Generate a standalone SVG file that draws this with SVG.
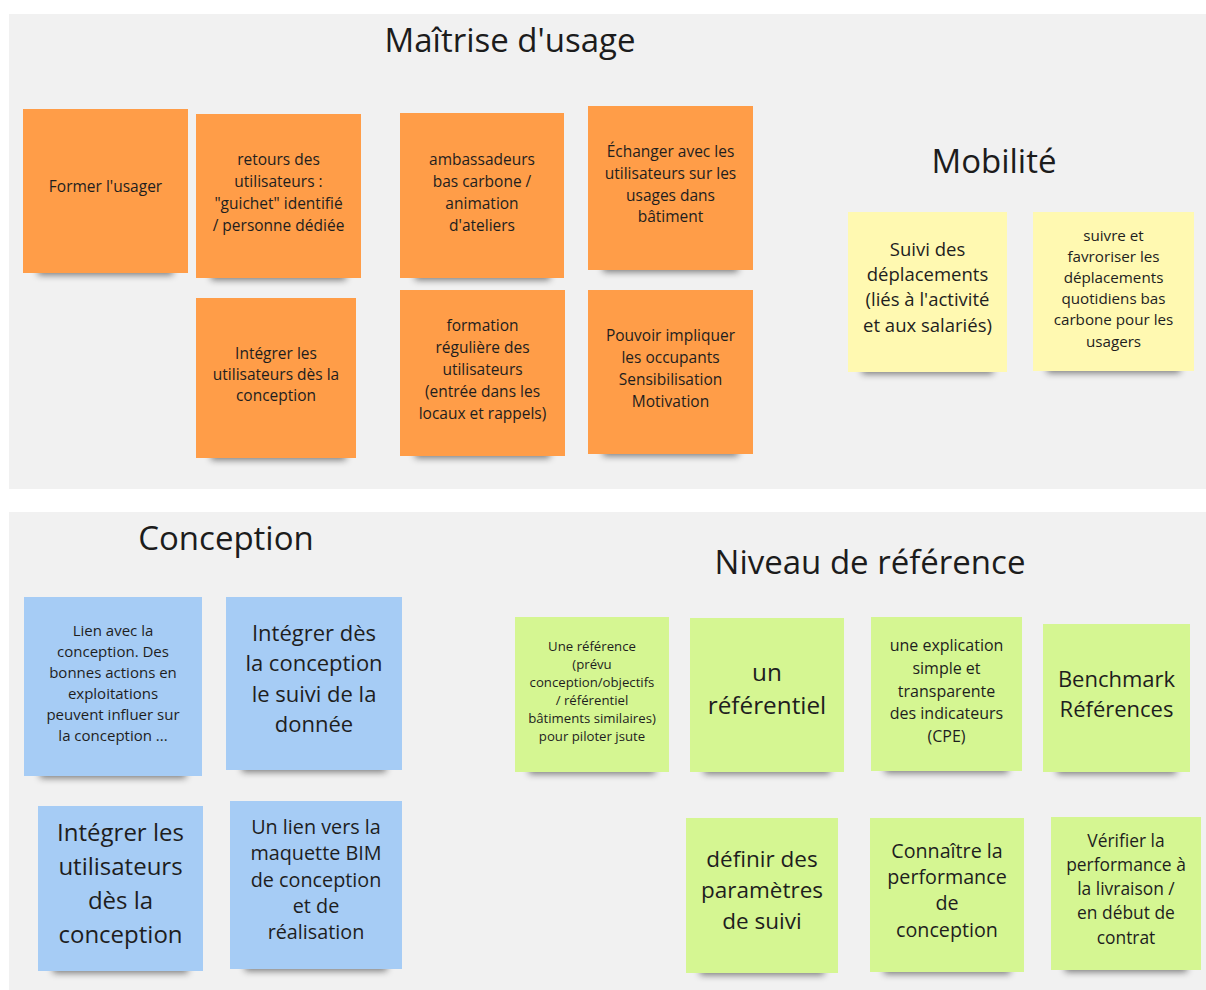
<svg xmlns="http://www.w3.org/2000/svg" width="1206" height="990" viewBox="0 0 1206 990">
<defs>
<filter id="sh" x="-20%" y="-200%" width="140%" height="500%"><feGaussianBlur stdDeviation="3.5"/></filter>
<style>
.panel{fill:#f1f1f1}
.title{font-family:"Open Sans","Liberation Sans",sans-serif;fill:#1c1c1c;text-anchor:middle}
.t{font-family:"Open Sans","Liberation Sans",sans-serif;fill:#1e1e1e;text-anchor:middle}
.shd{fill:#000;opacity:0.5;filter:url(#sh)}
.or{fill:#ff9d48}
.ye{fill:#fff9b1}
.bl{fill:#a6ccf5}
.gr{fill:#d5f692}
</style>
</defs>
<rect width="1206" height="990" fill="#ffffff"/>
<rect class="panel" x="9" y="14" width="1197" height="475"/>
<rect class="panel" x="9" y="512" width="1197" height="478"/>

<g id="titles">
<text class="title" x="510" y="52" font-size="33">Maîtrise d'usage</text>
<text class="title" x="994" y="173" font-size="33">Mobilité</text>
<text class="title" x="226" y="550" font-size="33">Conception</text>
<text class="title" x="870" y="574" font-size="33">Niveau de référence</text>
</g>

<g id="connectors"></g>

<!-- Maîtrise d'usage -->
<g id="n1"><rect class="shd" x="38" y="263" width="135" height="12"/><rect class="or" x="23" y="109" width="165" height="164"/>
<text class="t" font-size="15.5" x="105.5" y="191.5">Former l'usager</text></g>

<g id="n2"><rect class="shd" x="211" y="268" width="135" height="12"/><rect class="or" x="196" y="114" width="165" height="164"/>
<text class="t" font-size="15.5"><tspan x="278.5" y="164.5">retours des</tspan><tspan x="278.5" y="186.5">utilisateurs :</tspan><tspan x="278.5" y="208.5">"guichet" identifié</tspan><tspan x="278.5" y="230.5">/ personne dédiée</tspan></text></g>

<g id="n3"><rect class="shd" x="415" y="268" width="135" height="12"/><rect class="or" x="400" y="113" width="164" height="165"/>
<text class="t" font-size="15.5"><tspan x="482" y="164.5">ambassadeurs</tspan><tspan x="482" y="186.5">bas carbone /</tspan><tspan x="482" y="208.5">animation</tspan><tspan x="482" y="230.5">d'ateliers</tspan></text></g>

<g id="n4"><rect class="shd" x="603" y="260" width="135" height="12"/><rect class="or" x="588" y="106" width="165" height="164"/>
<text class="t" font-size="15.5"><tspan x="670.5" y="156.5">Échanger avec les</tspan><tspan x="670.5" y="178.5">utilisateurs sur les</tspan><tspan x="670.5" y="200.5">usages dans</tspan><tspan x="670.5" y="221.5">bâtiment</tspan></text></g>

<g id="n5"><rect class="shd" x="211" y="448" width="135" height="12"/><rect class="or" x="196" y="298" width="160" height="160"/>
<text class="t" font-size="15.5"><tspan x="276" y="358.5">Intégrer les</tspan><tspan x="276" y="379.5">utilisateurs dès la</tspan><tspan x="276" y="400.5">conception</tspan></text></g>

<g id="n6"><rect class="shd" x="415" y="446" width="135" height="12"/><rect class="or" x="400" y="290" width="165" height="166"/>
<text class="t" font-size="15.5"><tspan x="482.5" y="330.5">formation</tspan><tspan x="482.5" y="352.5">régulière des</tspan><tspan x="482.5" y="374.5">utilisateurs</tspan><tspan x="482.5" y="396.5">(entrée dans les</tspan><tspan x="482.5" y="418.5">locaux et rappels)</tspan></text></g>

<g id="n7"><rect class="shd" x="603" y="444" width="135" height="12"/><rect class="or" x="588" y="290" width="165" height="164"/>
<text class="t" font-size="15.5"><tspan x="670.5" y="340.5">Pouvoir impliquer</tspan><tspan x="670.5" y="362.5">les occupants</tspan><tspan x="670.5" y="384.5">Sensibilisation</tspan><tspan x="670.5" y="406.5">Motivation</tspan></text></g>

<!-- Mobilité -->
<g id="n8"><rect class="shd" x="862" y="362" width="131" height="12"/><rect class="ye" x="848" y="212" width="159" height="160"/>
<text class="t" font-size="18.5"><tspan x="927.5" y="255.5">Suivi des</tspan><tspan x="927.5" y="280.5">déplacements</tspan><tspan x="927.5" y="305.5">(liés à l'activité</tspan><tspan x="927.5" y="331.5">et aux salariés)</tspan></text></g>

<g id="n9"><rect class="shd" x="1047" y="361" width="133" height="12"/><rect class="ye" x="1033" y="212" width="161" height="159"/>
<text class="t" font-size="15.2"><tspan x="1113.5" y="240.5">suivre et</tspan><tspan x="1113.5" y="261.5">favroriser les</tspan><tspan x="1113.5" y="282.5">déplacements</tspan><tspan x="1113.5" y="303.5">quotidiens bas</tspan><tspan x="1113.5" y="324.5">carbone pour les</tspan><tspan x="1113.5" y="346.5">usagers</tspan></text></g>

<!-- Conception -->
<g id="n10"><rect class="shd" x="40" y="766" width="146" height="12"/><rect class="bl" x="24" y="597" width="178" height="179"/>
<text class="t" font-size="15"><tspan x="113" y="635.5">Lien avec la</tspan><tspan x="113" y="656.5">conception. Des</tspan><tspan x="113" y="677.5">bonnes actions en</tspan><tspan x="113" y="698.5">exploitations</tspan><tspan x="113" y="719.5">peuvent influer sur</tspan><tspan x="113" y="740.5">la conception ...</tspan></text></g>

<g id="n11"><rect class="shd" x="242" y="760" width="144" height="12"/><rect class="bl" x="226" y="597" width="176" height="173"/>
<text class="t" font-size="22"><tspan x="314" y="641">Intégrer dès</tspan><tspan x="314" y="671">la conception</tspan><tspan x="314" y="702">le suivi de la</tspan><tspan x="314" y="732">donnée</tspan></text></g>

<g id="n12"><rect class="shd" x="53" y="961" width="135" height="12"/><rect class="bl" x="38" y="806" width="165" height="165"/>
<text class="t" font-size="24"><tspan x="120.5" y="841">Intégrer les</tspan><tspan x="120.5" y="875">utilisateurs</tspan><tspan x="120.5" y="909">dès la</tspan><tspan x="120.5" y="943">conception</tspan></text></g>

<g id="n13"><rect class="shd" x="245" y="959" width="142" height="12"/><rect class="bl" x="230" y="801" width="172" height="168"/>
<text class="t" font-size="19.8"><tspan x="316" y="834">Un lien vers la</tspan><tspan x="316" y="860">maquette BIM</tspan><tspan x="316" y="887">de conception</tspan><tspan x="316" y="913">et de</tspan><tspan x="316" y="939">réalisation</tspan></text></g>

<!-- Niveau de référence -->
<g id="n14"><rect class="shd" x="529" y="762" width="126" height="12"/><rect class="gr" x="515" y="617" width="154" height="155"/>
<text class="t" font-size="13.2"><tspan x="592" y="650.5">Une référence</tspan><tspan x="592" y="668.5">(prévu</tspan><tspan x="592" y="686.5">conception/objectifs</tspan><tspan x="592" y="704.5">/ référentiel</tspan><tspan x="592" y="722.5">bâtiments similaires)</tspan><tspan x="592" y="740.5">pour piloter jsute</tspan></text></g>

<g id="n15"><rect class="shd" x="704" y="762" width="126" height="12"/><rect class="gr" x="690" y="618" width="154" height="154"/>
<text class="t" font-size="24.3"><tspan x="767" y="681">un</tspan><tspan x="767" y="714">référentiel</tspan></text></g>

<g id="n16"><rect class="shd" x="885" y="761" width="123" height="12"/><rect class="gr" x="871" y="617" width="151" height="154"/>
<text class="t" font-size="16"><tspan x="946.5" y="650.5">une explication</tspan><tspan x="946.5" y="673.5">simple et</tspan><tspan x="946.5" y="696.5">transparente</tspan><tspan x="946.5" y="718.5">des indicateurs</tspan><tspan x="946.5" y="741.5">(CPE)</tspan></text></g>

<g id="n17"><rect class="shd" x="1057" y="762" width="119" height="12"/><rect class="gr" x="1043" y="624" width="147" height="148"/>
<text class="t" font-size="22"><tspan x="1116.5" y="687">Benchmark</tspan><tspan x="1116.5" y="717">Références</tspan></text></g>

<g id="n18"><rect class="shd" x="700" y="963" width="124" height="12"/><rect class="gr" x="686" y="818" width="152" height="155"/>
<text class="t" font-size="22.5"><tspan x="762" y="867">définir des</tspan><tspan x="762" y="898">paramètres</tspan><tspan x="762" y="929">de suivi</tspan></text></g>

<g id="n19"><rect class="shd" x="884" y="962" width="126" height="12"/><rect class="gr" x="870" y="818" width="154" height="154"/>
<text class="t" font-size="19.7"><tspan x="947" y="858">Connaître la</tspan><tspan x="947" y="884">performance</tspan><tspan x="947" y="910">de</tspan><tspan x="947" y="937">conception</tspan></text></g>

<g id="n20"><rect class="shd" x="1065" y="960" width="122" height="12"/><rect class="gr" x="1051" y="817" width="150" height="153"/>
<text class="t" font-size="17.4"><tspan x="1126" y="847">Vérifier la</tspan><tspan x="1126" y="871">performance à</tspan><tspan x="1126" y="895">la livraison /</tspan><tspan x="1126" y="919">en début de</tspan><tspan x="1126" y="944">contrat</tspan></text></g>
</svg>
